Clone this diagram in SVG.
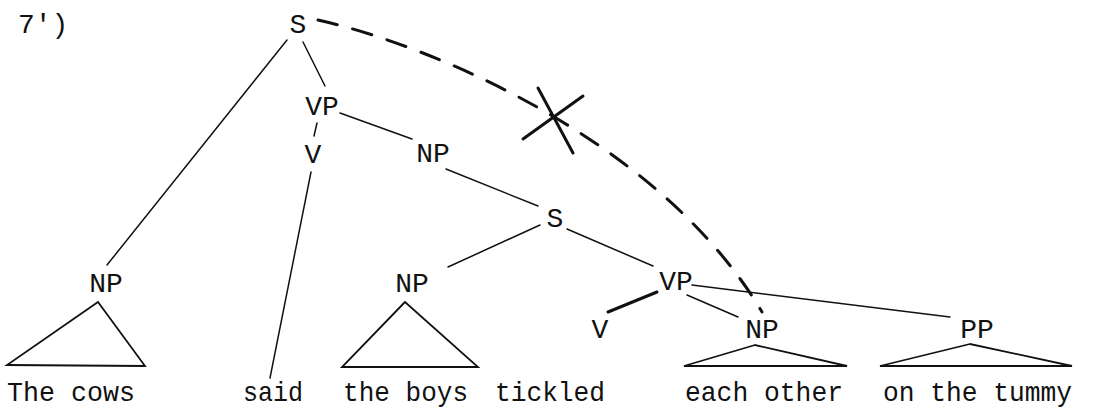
<svg xmlns="http://www.w3.org/2000/svg" width="1094" height="407" viewBox="0 0 1094 407">
<style>
text{font-family:"Liberation Mono","DejaVu Sans Mono",monospace;font-size:28px;fill:#111}
.l{stroke:#111;stroke-width:1.5;fill:none;stroke-linecap:round}
.tk{stroke:#111;stroke-width:3;fill:none;stroke-linecap:round}
.tri{stroke:#111;stroke-width:1.8;fill:none;stroke-linejoin:miter}
.m{text-anchor:middle}
</style>
<rect width="1094" height="407" fill="#fff"/>
<text x="18" y="33">7')</text>
<g id="S1"><text class="m" x="298" y="33">S</text></g>
<g id="VP1"><text class="m" x="322" y="115">VP</text></g>
<g id="V1"><text class="m" x="313" y="163">V</text></g>
<g id="NP1"><text class="m" x="433" y="162">NP</text></g>
<g id="S2"><text class="m" x="555" y="227">S</text></g>
<g id="NP-cows"><text class="m" x="106" y="292">NP</text><path class="tri" d="M98,302 L7,365 L145,366 Z"/></g>
<g id="NP-boys"><text class="m" x="412" y="292">NP</text><path class="tri" d="M405,302 L342,367 L478,367 Z"/></g>
<g id="VP2"><text class="m" x="676" y="290">VP</text></g>
<g id="V2"><text class="m" x="600" y="338">V</text></g>
<g id="NP-eo"><text class="m" x="762" y="338">NP</text><path class="tri" d="M755,345 L684,366 L847,366 Z"/></g>
<g id="PP"><text class="m" x="977" y="338">PP</text><path class="tri" d="M970,344 L880,366 L1072,366 Z"/></g>
<g id="words">
<text x="7" y="401" textLength="128" lengthAdjust="spacingAndGlyphs">The cows</text>
<text x="243" y="401" textLength="60" lengthAdjust="spacingAndGlyphs">said</text>
<text x="343" y="401" textLength="125" lengthAdjust="spacingAndGlyphs">the boys</text>
<text x="495" y="401" textLength="110" lengthAdjust="spacingAndGlyphs">tickled</text>
<text x="685" y="401" textLength="158" lengthAdjust="spacingAndGlyphs">each other</text>
<text x="883" y="401" textLength="189" lengthAdjust="spacingAndGlyphs">on the tummy</text>
</g>
<g id="connectors">
<line class="l" x1="287" y1="40" x2="107" y2="265"/>
<line class="l" x1="303" y1="42" x2="325" y2="86"/>
<line class="l" x1="340" y1="113" x2="412" y2="139"/>
<line class="l" x1="317" y1="123" x2="314" y2="136"/>
<line class="l" x1="311" y1="172" x2="270" y2="378"/>
<line class="l" x1="446" y1="169" x2="538" y2="206"/>
<line class="l" x1="540" y1="225" x2="448" y2="267"/>
<line class="l" x1="567" y1="229" x2="653" y2="266"/>
<line class="tk" x1="657" y1="292" x2="608" y2="312"/>
<line class="l" x1="687" y1="295" x2="738" y2="317"/>
<line class="l" x1="692" y1="285" x2="950" y2="317"/>
<path class="tk" d="M318,20 C430,45 660,140 762,312" stroke-dasharray="20 16"/>
<line class="tk" x1="538" y1="88" x2="573" y2="153"/>
<line class="tk" x1="523" y1="139" x2="583" y2="96"/>
</g>
</svg>
